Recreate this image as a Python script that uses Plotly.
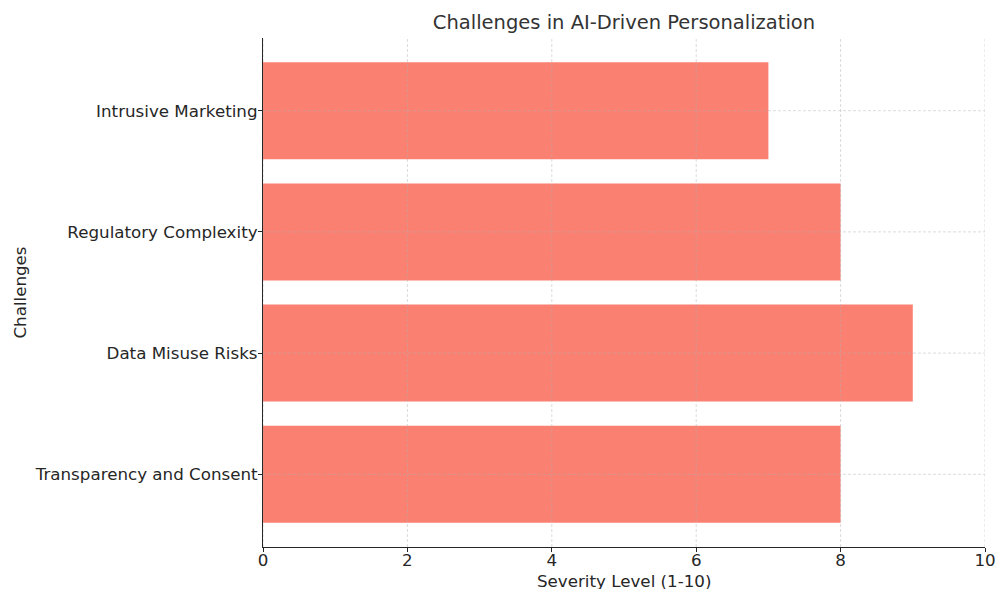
import plotly.graph_objects as go

challenges = ["Transparency and Consent", "Data Misuse Risks",
              "Regulatory Complexity", "Intrusive Marketing"]
severity = [8, 9, 8, 7]

x_ticks = [0, 2, 4, 6, 8, 10]

font_family = "DejaVu Sans"
grid_color = "rgba(176,176,176,0.45)"
axis_color = "#262626"
label_size = 16.7

fig = go.Figure(
    go.Bar(
        x=severity,
        y=challenges,
        orientation="h",
        marker=dict(color="#FA8072", line=dict(width=0)),
        width=0.8,
    )
)

# Dashed grid drawn on top of the bars
grid_shapes = []
for xv in x_ticks:
    grid_shapes.append(dict(
        type="line", xref="x", yref="paper", x0=xv, x1=xv, y0=0, y1=1,
        line=dict(color=grid_color, width=1, dash="3px,2px"), layer="above",
    ))
for cat in challenges:
    grid_shapes.append(dict(
        type="line", xref="paper", yref="y", x0=0, x1=1, y0=cat, y1=cat,
        line=dict(color=grid_color, width=1, dash="3px,2px"), layer="above",
    ))

fig.update_layout(
    width=995,
    height=589,
    margin=dict(l=263, r=10, t=38, b=42),
    paper_bgcolor="white",
    plot_bgcolor="white",
    showlegend=False,
    shapes=grid_shapes,
    font=dict(family=font_family, size=label_size, color=axis_color),
    title=dict(
        text="Challenges in AI-Driven Personalization",
        x=(263 + 985) / 2 / 995,
        xanchor="center",
        y=1 - 22 / 589,
        yanchor="middle",
        font=dict(family=font_family, size=19.5, color="#333333"),
    ),
    annotations=[
        dict(
            text="Severity Level (1-10)",
            xref="paper", yref="paper",
            x=0.5, y=-34 / 509,
            xanchor="center", yanchor="middle",
            showarrow=False,
            font=dict(family=font_family, size=label_size, color=axis_color),
        )
    ],
)

fig.update_xaxes(
    range=[0, 10],
    tickvals=x_ticks,
    ticktext=[str(v) for v in x_ticks],
    showgrid=False,
    showline=True,
    linecolor=axis_color,
    linewidth=1.2,
    ticks="outside",
    ticklen=4,
    tickcolor=axis_color,
    ticklabelstandoff=-6,
    ticklabeloverflow="allow",
    zeroline=False,
    automargin=False,
)

fig.update_yaxes(
    range=[-0.6, 3.6],
    showgrid=False,
    showline=True,
    linecolor=axis_color,
    linewidth=1.2,
    ticks="outside",
    ticklen=4,
    tickcolor=axis_color,
    ticklabelstandoff=-3,
    zeroline=False,
    automargin=False,
    title=dict(text="Challenges", standoff=3,
               font=dict(family=font_family, size=label_size, color=axis_color)),
)

fig.write_html("out.html")
